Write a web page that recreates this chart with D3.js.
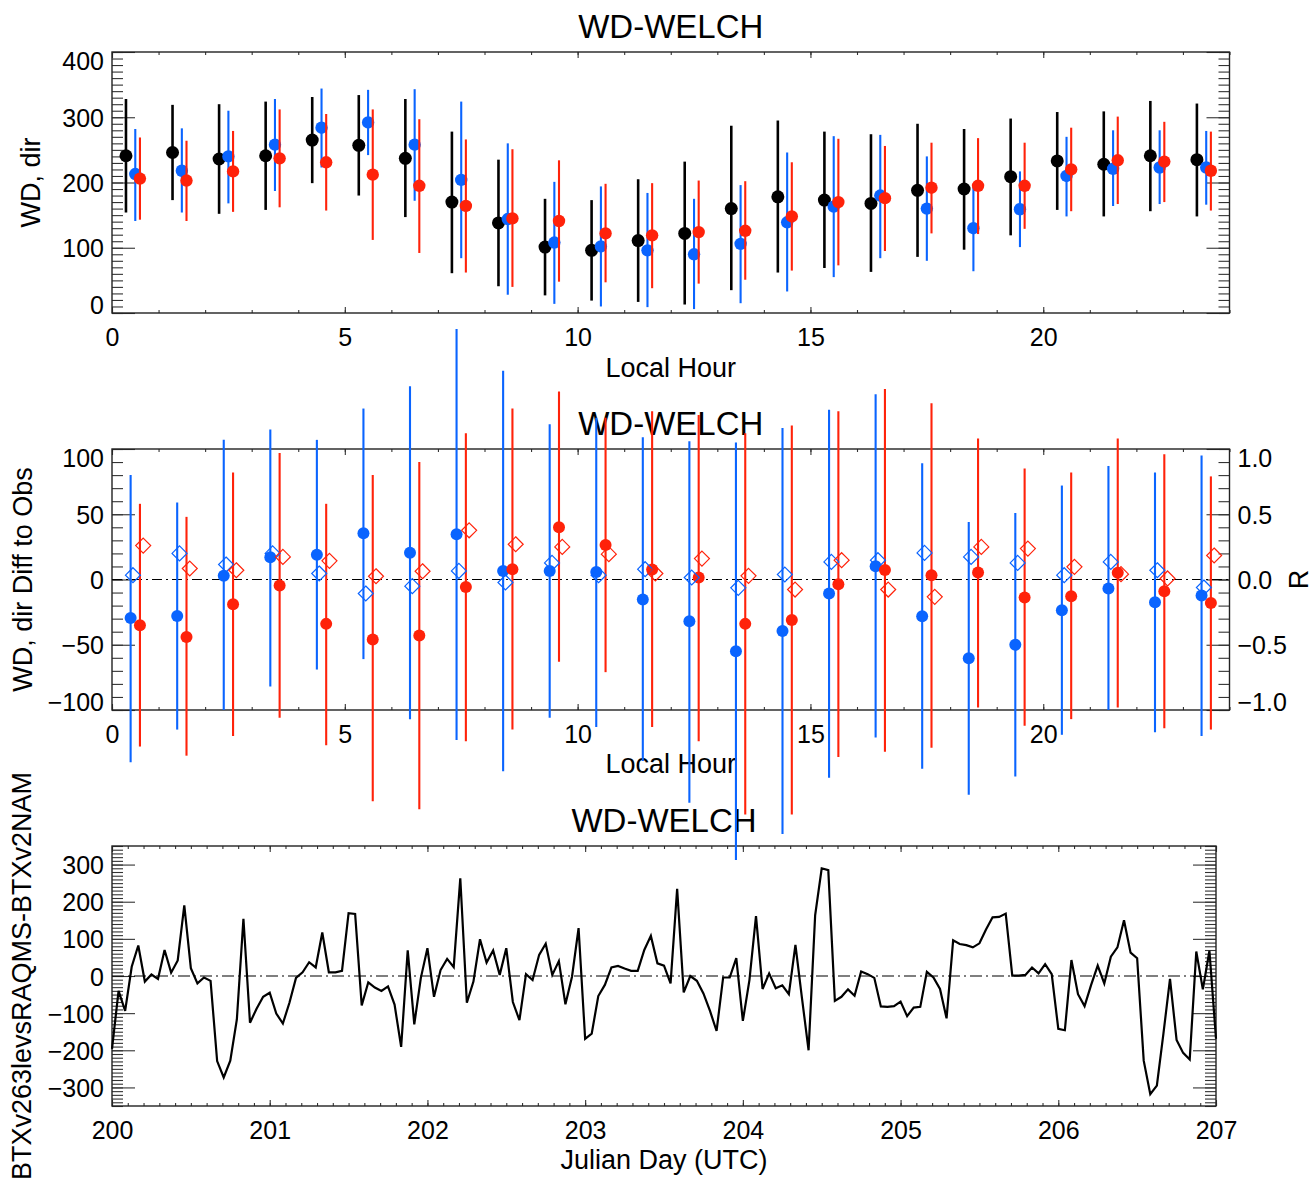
<!DOCTYPE html>
<html><head><meta charset="utf-8">
<script src="https://cdn.jsdelivr.net/npm/d3@7"></script>
<style>
body{margin:0;background:#fff}
svg{display:block}
text{font-family:"Liberation Sans",Arial,Helvetica,sans-serif;fill:#000}
</style>
</head><body>
<svg id="c" width="1314" height="1184"></svg>
<script>
// ---------------- DATA ----------------
const hours = [0,1,2,3,4,5,6,7,8,9,10,11,12,13,14,15,16,17,18,19,20,21,22,23];

// Panel 1: WD (deg) by local hour: observed (black), RAQMS (blue), NAM (red)
const obsWD  = [241,246,236,241,265,257,237,170,138,101,96,111,122,160,178,173,168,188,190,209,233,228,241,235];
const obsLo  = [154,173,152,158,199,180,147,61,41,27,19,17,13,35,62,69,63,86,97,119,158,148,156,148];
const obsHi  = [328,319,320,324,331,334,328,278,235,175,173,205,232,287,295,278,274,290,282,298,308,309,325,321];
const blueWD = [213,218,240,258,284,292,258,204,144,108,102,96,90,106,139,163,180,160,130,159,210,221,223,223];
const blueLo = [141,154,168,187,223,242,172,84,28,14,10,9,6,15,33,55,84,80,64,101,148,164,167,166];
const blueHi = [282,283,310,328,344,342,343,324,260,201,194,184,175,196,246,271,273,240,194,217,270,280,280,279];
const redWD  = [206,203,217,237,231,212,195,164,145,141,122,119,124,126,148,170,176,192,195,195,220,234,232,218];
const redLo  = [143,141,155,162,157,112,92,62,40,48,47,38,45,51,65,73,95,122,121,129,156,167,170,157];
const redHi  = [269,264,279,312,305,312,297,266,251,234,198,199,203,202,231,267,256,261,268,261,284,301,293,278];

// Panel 2: difference to obs (left axis) and correlation R (right axis)
const blueDiff   = [-29.5,-28,2.8,17,19,35.4,20.5,34.6,6.6,6.6,5.8,-15.4,-32,-55,-39.5,-10.8,10.2,-28.2,-60.3,-50,-23.6,-6.9,-17.5,-12.3];
const blueDiffLo = [-140,-115,-100,-82,-69,-61,-107,-123,-147,-106,-113,-139,-171,-215,-195,-152,-121,-145,-165,-151,-119,-100,-117,-120];
const blueDiffHi = [80,59,107,115,107,131,148,192,160,119,124,109,106,105,116,130,142,89,44,51,72,87,82,95];
const redDiff    = [-35,-44,-19,-4.6,-34,-46,-43,-5.7,7.9,40,26.4,7.7,1.5,-34,-31,-3.6,7.2,3.3,5.4,-13.8,-12.8,5.1,-9,-18];
const redDiffLo  = [-128,-135,-120,-106,-127,-170,-176,-124,-115,-63,-71,-113,-124,-180,-180,-136,-132,-129,-98,-112,-107,-98,-114,-115];
const redDiffHi  = [58,48,82,97,58,80,90,112,131,144,124,129,126,112,118,129,146,135,108,85,82,108,96,79];
const blueR = [0.033,0.2,0.115,0.2,0.046,-0.107,-0.051,0.066,-0.023,0.127,0.033,0.079,0.015,-0.064,0.038,0.135,0.148,0.204,0.173,0.127,0.033,0.135,0.071,-0.061];
const redR  = [0.26,0.084,0.071,0.173,0.143,0.025,0.063,0.377,0.27,0.25,0.194,0.046,0.16,0.028,-0.077,0.148,-0.077,-0.133,0.25,0.237,0.097,0.041,0.008,0.184];

// Panel 3: hourly difference time series, Julian day 200.0 .. 207.0
const seriesDiff = [
 -196,-40,-94,25,82,-15,4,-8,70,9,42,190,21,-20,-4,-13,-229,-273,-228,-117,154,-126,-88,-56,
 -45,-101,-128,-72,-5,10,37,23,117,10,10,14,169,167,-79,-17,-31,-40,-28,-77,-191,69,-130,-5,
 75,-56,16,46,24,263,-72,-15,99,36,69,3,75,-70,-119,5,-11,57,87,3,40,-76,-2,129,
 -169,-155,-54,-24,23,27,20,14,14,70,108,34,28,-20,235,-44,0,-13,-47,-94,-148,-4,-4,48,
 -121,-11,161,-35,7,-33,-25,-49,84,-60,-200,163,290,285,-67,-56,-36,-53,12,5,-5,-82,-83,-81,
 -69,-108,-85,-83,11,-4,-35,-114,96,86,83,77,88,125,158,159,168,1,1,3,23,7,32,5,
 -142,-146,43,-49,-81,-24,28,-20,52,77,150,63,48,-228,-318,-295,-155,-8,-172,-207,-225,66,-36,68,-169
];
const seriesStartDay = 200;
const stepsPerDay = 24;

const hourTicks = [0,5,10,15,20];
const dayTicks = [200,201,202,203,204,205,206,207];
const wdTicks = [0,100,200,300,400];
const diffTicks = [-100,-50,0,50,100];
const rTicks = [-1,-0.5,0,0.5,1];
const seriesTicks = [-300,-200,-100,0,100,200,300];

const titleText = "WD-WELCH";

// ---------------- STYLE ----------------
const BLUE = "#0a64ff", RED = "#ff220a", BLACK = "#000";
const TICKFS = 25, LABFS = 27, TITLEFS = 33;
const svg = d3.select("#c");

function styleAxis(g){
  g.select(".domain").remove();
  g.selectAll(".tick line").attr("stroke","#333").attr("stroke-width",1.1);
  g.selectAll("text").attr("font-size",TICKFS).attr("fill","#000")
    .attr("font-family",'"Liberation Sans",Arial,Helvetica,sans-serif');
}
function clampY(g, y, scale){
  const [b,t] = scale.range();
  g.selectAll(".tick").each(function(d){
    const ty = scale(d);
    const c = Math.max(t+8.5, Math.min(b-8.5, ty));
    d3.select(this).select("text").attr("y", c-ty).attr("dy","0.36em");
  });
}

function panel(o){
  const g = svg.append("g");
  const [x0,x1] = o.x.range(), [yb,yt] = o.y.range();
  // ticks
  g.append("g").attr("transform",`translate(0,${yb})`)
    .call(d3.axisBottom(o.x).tickValues(o.xMajor).tickSize(-6).tickPadding(15).tickFormat(o.xFmt)).call(styleAxis);
  g.append("g").attr("transform",`translate(0,${yb})`)
    .call(d3.axisBottom(o.x).tickValues(o.xMinor).tickSize(-3).tickFormat("")).call(styleAxis);
  g.append("g").attr("transform",`translate(0,${yt})`)
    .call(d3.axisTop(o.x).tickValues(o.xMajor).tickSize(-6).tickFormat("")).call(styleAxis);
  g.append("g").attr("transform",`translate(0,${yt})`)
    .call(d3.axisTop(o.x).tickValues(o.xMinor).tickSize(-3).tickFormat("")).call(styleAxis);
  const la = g.append("g").attr("transform",`translate(${x0},0)`)
    .call(d3.axisLeft(o.y).tickValues(o.yMajor).tickSize(-23).tickPadding(8).tickFormat(o.yFmt)).call(styleAxis);
  clampY(la, o.y, o.y);
  g.append("g").attr("transform",`translate(${x0},0)`)
    .call(d3.axisLeft(o.y).tickValues(o.yMinor).tickSize(-11).tickFormat("")).call(styleAxis);
  const ry = o.yR || o.y;
  const ra = g.append("g").attr("transform",`translate(${x1},0)`)
    .call(d3.axisRight(ry).tickValues(o.yRMajor || o.yMajor).tickSize(-23).tickPadding(8).tickFormat(o.yR ? o.yRFmt : "")).call(styleAxis);
  if (o.yR) clampY(ra, ry, ry);
  g.append("g").attr("transform",`translate(${x1},0)`)
    .call(d3.axisRight(ry).tickValues(o.yRMinor || o.yMinor).tickSize(-11).tickFormat("")).call(styleAxis);
  // box
  g.append("rect").attr("x",x0).attr("y",yt).attr("width",x1-x0).attr("height",yb-yt)
    .attr("fill","none").attr("stroke","#222").attr("stroke-width",1.4);
  // titles
  g.append("text").attr("x",(x0+x1)/2).attr("y",o.titleY).attr("text-anchor","middle")
    .attr("font-size",TITLEFS).text(titleText);
  g.append("text").attr("x",(x0+x1)/2).attr("y",o.xLabY).attr("text-anchor","middle")
    .attr("font-size",LABFS).text(o.xLab);
  g.append("text").attr("transform",`translate(${o.yLabX},${(yt+yb)/2}) rotate(-90)`)
    .attr("text-anchor","middle").attr("font-size",LABFS).text(o.yLab);
  if (o.rLab) g.append("text").attr("transform",`translate(1308,${(yt+yb)/2}) rotate(-90)`)
    .attr("text-anchor","middle").attr("font-size",LABFS).text(o.rLab);
  return g;
}

function range(a,b,s){ return d3.range(Math.round((b-a)/s)+1).map(i=>+(a+i*s).toFixed(4)); }

// ---------------- PANEL 1 ----------------
const x1s = d3.scaleLinear([0,24],[112,1229.5]);
const y1s = d3.scaleLinear([0,400],[313,52]);
const p1 = panel({x:x1s,y:y1s,xMajor:hourTicks,xMinor:range(0,24,1),xFmt:d3.format("d"),
  yMajor:wdTicks,yMinor:range(0,400,10),yFmt:d3.format("d"),
  titleY:38,xLabY:377,xLab:"Local Hour",yLab:"WD, dir",yLabX:40});

function errSeries(g,x,y,off,val,lo,hi,color,w,r){
  g.append("g").selectAll("line").data(hours).join("line")
    .attr("x1",h=>x(h+off)).attr("x2",h=>x(h+off))
    .attr("y1",h=>y(lo[h])).attr("y2",h=>y(hi[h]))
    .attr("stroke",color).attr("stroke-width",w);
  g.append("g").selectAll("circle").data(hours).join("circle")
    .attr("cx",h=>x(h+off)).attr("cy",h=>y(val[h])).attr("r",r).attr("fill",color);
}
const d1 = svg.append("g");
errSeries(d1,x1s,y1s,0.3,obsWD,obsLo,obsHi,BLACK,2.6,6.5);
errSeries(d1,x1s,y1s,0.5,blueWD,blueLo,blueHi,BLUE,2.1,6.2);
errSeries(d1,x1s,y1s,0.6,redWD,redLo,redHi,RED,2.1,6.2);

// ---------------- PANEL 2 ----------------
const x2s = d3.scaleLinear([0,24],[112,1229.5]);
const y2s = d3.scaleLinear([-100,100],[710,449]);
const r2s = d3.scaleLinear([-1,1],[710,449]);
const p2 = panel({x:x2s,y:y2s,xMajor:hourTicks,xMinor:range(0,24,1),xFmt:d3.format("d"),
  yMajor:diffTicks,yMinor:range(-100,100,10),yFmt:d3.format("d"),
  yR:r2s,yRMajor:rTicks,yRMinor:range(-1,1,0.1),yRFmt:d3.format(".1f"),rLab:"R",
  titleY:435,xLabY:773,xLab:"Local Hour",yLab:"WD, dir Diff to Obs",yLabX:32});
p2.append("line").attr("x1",112).attr("x2",1229.5).attr("y1",y2s(0)).attr("y2",y2s(0))
  .attr("stroke","#000").attr("stroke-width",1.2).attr("stroke-dasharray","10,4,2,4");

// ---------------- PANEL 3 ----------------
const x3s = d3.scaleLinear([200,207],[112,1216]);
const y3s = d3.scaleLinear([-350,350],[1106,846]);
const p3 = panel({x:x3s,y:y3s,xMajor:dayTicks,xMinor:range(200,207,0.1),xFmt:d3.format("d"),
  yMajor:seriesTicks,yMinor:range(-350,350,10),yFmt:d3.format("d"),
  titleY:832,xLabY:1169,xLab:"Julian Day (UTC)",yLab:"BTXv263levsRAQMS-BTXv2NAM",yLabX:31});
p3.append("line").attr("x1",112).attr("x2",1216).attr("y1",y3s(0)).attr("y2",y3s(0))
  .attr("stroke","#000").attr("stroke-width",1.2).attr("stroke-dasharray","12,4,2,4");
p3.append("path").datum(seriesDiff)
  .attr("d",d3.line().x((d,i)=>x3s(seriesStartDay+i/stepsPerDay)).y(d=>y3s(d)))
  .attr("fill","none").attr("stroke","#000").attr("stroke-width",2.2).attr("stroke-linejoin","miter");

// Panel 2 marks drawn last (unclipped, overlapping neighbours)
const d2 = svg.append("g");
const diamond = {draw(ctx,size){const r=Math.sqrt(size/2);ctx.moveTo(0,-r);ctx.lineTo(r,0);ctx.lineTo(0,r);ctx.lineTo(-r,0);ctx.closePath();}};
function diamonds(g,off,vals,color){
  g.append("g").selectAll("path").data(hours).join("path")
    .attr("transform",h=>`translate(${x2s(h+off)},${r2s(vals[h])})`)
    .attr("d",d3.symbol(diamond,112)()).attr("fill","none").attr("stroke",color).attr("stroke-width",1.2);
}
errSeries(d2,x2s,y2s,0.4,blueDiff,blueDiffLo,blueDiffHi,BLUE,2.1,6);
errSeries(d2,x2s,y2s,0.6,redDiff,redDiffLo,redDiffHi,RED,2.1,6);
diamonds(d2,0.45,blueR,BLUE);
diamonds(d2,0.67,redR,RED);
</script>
</body></html>
